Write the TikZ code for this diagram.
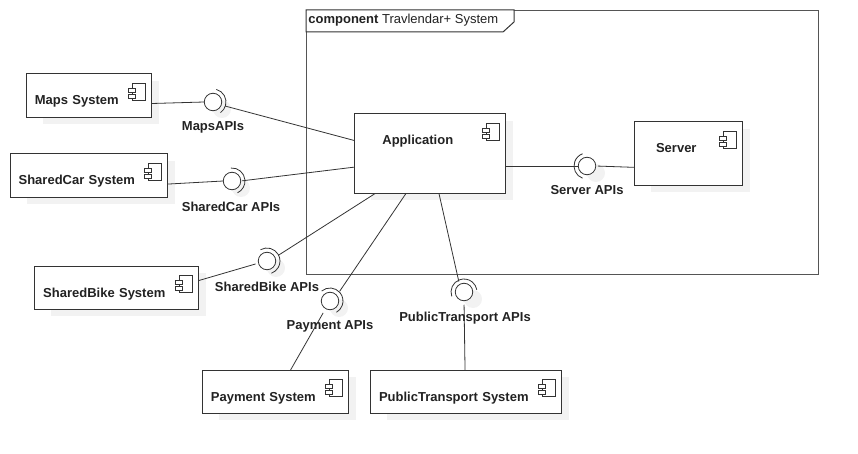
\documentclass[tikz,border=0pt]{standalone}
\usepackage{fontspec}
\setmainfont{Liberation Sans}
\usetikzlibrary{backgrounds,calc}

\definecolor{shadowgray}{HTML}{F2F2F2}
\definecolor{linegray}{HTML}{333333}
\definecolor{framegray}{HTML}{555555}
\definecolor{textgray}{HTML}{222222}

\begin{document}
\begin{tikzpicture}[x=1pt, y=-1pt, line width=0.8pt, draw=linegray, text=textgray,
    font=\fontsize{13}{15}\selectfont]

    \useasboundingbox (0, 0) rectangle (858, 454);

    \tikzset{compbox/.style 2 args={%
      draw,%
      line width=1pt,%
      fill=white,%
      rectangle,%
      anchor=north west,%
      inner sep=0pt,%
      outer sep=0pt,%
      align=center,%
      font=\fontsize{13}{15}\selectfont\bfseries,%
      text width=#1pt,%
      text height=31pt,%
      text depth=#2pt-31pt,%
      execute at begin node={\hspace*{-24pt}}}%
    };

    \tikzset{ball/.style={%
      draw,%
      circle,%
      fill=white,%
      inner sep=0pt,%
      outer sep=0pt,%
      minimum size=17.5pt}%
    };

    \tikzset{apilabel/.style={font=\fontsize{13}{15}\selectfont\bfseries, inner sep=0pt}};

    \tikzset{compicon/.pic={%
      \draw [fill=white] (-19, 9) rectangle (-6, 26);
      \draw [fill=white] (-23.5, 14) rectangle (-16, 18);
      \draw [fill=white] (-23.5, 20) rectangle (-16, 24);}%
    };

    %%%%%%%%%%%%%%%
    %    frame    %
    %%%%%%%%%%%%%%%
    \path (306, 10) node [draw=framegray, line width=1pt, anchor=north west, inner sep=0pt,
      minimum width=511.5pt, minimum height=263.5pt] (frame) {};
    \draw [fill=white, line width=1pt] (frame.north west) -- +(208, 0) -- +(208, 12) -- +(197, 22)
      -- +(0, 22) -- cycle;
    \path (308, 20) node [anchor=west, inner sep=0pt] (title) {\textbf{component} Travlendar+ System};

    %%%%%%%%%%%%%%%
    % components  %
    %%%%%%%%%%%%%%%
    \path (26, 74) node [compbox={125.6}{43.6}] (maps) {Maps System};
    \path (10, 154) node [compbox={157.6}{43.6}] (car) {SharedCar System};
    \path (34, 266) node [compbox={164.6}{43.6}] (bike) {SharedBike System};
    \path (202, 370) node [compbox={146.6}{43.6}] (pay) {Payment System};
    \path (370, 370) node [compbox={191.6}{43.6}] (pub) {PublicTransport System};
    \path (354, 114) node [compbox={151.6}{79.6}] (app) {Application};
    \path (634, 122) node [compbox={108.6}{63.6}] (srv) {Server};

    \foreach \comp in {maps, car, bike, pay, pub, app, srv}
      \path (\comp.north east) pic {compicon};

    %%%%%%%%%%%%%%%
    % interfaces  %
    %%%%%%%%%%%%%%%
    \path (213, 102) node [ball] (mapsapi) {};
    \path (232, 181) node [ball] (carapi) {};
    \path (267, 261) node [ball] (bikeapi) {};
    \path (330, 301) node [ball] (payapi) {};
    \path (464, 292) node [ball] (pubapi) {};
    \path (587, 166) node [ball] (srvapi) {};

    \foreach \api/\from/\to in {mapsapi/-75/55, carapi/-95/65, bikeapi/-120/70,
      payapi/-130/60, pubapi/-200/-10, srvapi/110/250}
      \draw ($(\api)+(\from:13)$) arc [start angle=\from, end angle=\to, radius=13];

    \path (213, 127.5) node [apilabel] (mapslabel) {MapsAPIs};
    \path (231, 206.5) node [apilabel] (carlabel) {SharedCar APIs};
    \path (267, 286.5) node [apilabel] (bikelabel) {SharedBike APIs};
    \path (330, 326.5) node [apilabel] (paylabel) {Payment APIs};
    \path (465, 318.5) node [apilabel] (publabel) {PublicTransport APIs};
    \path (587, 190.5) node [apilabel] (srvlabel) {Server APIs};

    %%%%%%%%%%%%%%%
    % connectors  %
    %%%%%%%%%%%%%%%
    \draw (maps.-7) -- (mapsapi.west);
    \draw [shorten <=4pt] (mapsapi.-20) -- (app.170);
    \draw (car.-6.5) -- (carapi.west);
    \draw [shorten <=1.5pt] (carapi.east) -- (app.-170);
    \draw [shorten >=3pt] (bike.5.5) -- (bikeapi.194);
    \draw [shorten <=4pt] (bikeapi.24) -- (app.-144);
    \draw [shorten <=5pt] (payapi.39) -- (app.-121.5);
    \draw [shorten <=5pt] (payapi.-120) -- (pay.55);
    \draw [shorten <=3pt] (pubapi.121) -- (app.-77.5);
    \draw [shorten <=4pt] (pubapi.south) -- (pub.92);
    \draw (app.east |- srvapi) -- (srvapi.west);
    \draw [shorten <=2pt] (srvapi.east) -- (srv.-166.5);

    %%%%%%%%%%%%%%%
    %   shadows   %
    %%%%%%%%%%%%%%%
    \begin{scope}[on background layer]
      \foreach \comp in {maps, car, bike, pay, pub, app, srv}
        \fill [shadowgray] ($(\comp.north west)+(17, 7)$) rectangle ($(\comp.south east)+(7, 6)$);
      \foreach \api in {mapsapi, carapi, bikeapi, payapi, pubapi, srvapi}
        \fill [shadowgray] ($(\api)+(9, 7)$) circle [radius=9];
    \end{scope}

  \end{tikzpicture}
\end{document}
